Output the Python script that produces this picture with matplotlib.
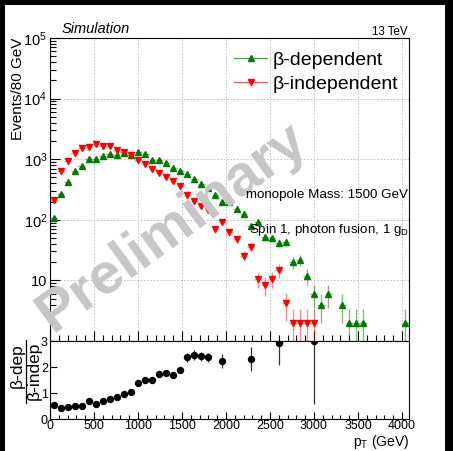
import numpy as np
import matplotlib
matplotlib.use('Agg')
import matplotlib.pyplot as plt
from matplotlib.lines import Line2D
from matplotlib.patches import Rectangle
from matplotlib.transforms import Bbox, TransformedBbox
from matplotlib.ticker import MultipleLocator, NullFormatter, LogLocator

plt.rcParams['font.family'] = ['Liberation Sans', 'DejaVu Sans']
plt.rcParams['mathtext.fontset'] = 'custom'
plt.rcParams['mathtext.rm'] = 'Liberation Sans'
plt.rcParams['mathtext.it'] = 'Liberation Sans:italic'
plt.rcParams['mathtext.bf'] = 'Liberation Sans:bold'

# ---- data (80 GeV bins) ----
bin_centers = [40, 120, 200, 280, 360, 440, 520, 600, 680, 760, 840, 920, 1000,
               1080, 1160, 1240, 1320, 1400, 1480, 1560, 1640, 1720, 1800, 1880,
               1960, 2040, 2120, 2200, 2280, 2360, 2440, 2520, 2600, 2680, 2760,
               2840, 2920, 3000, 3080, 3160, 3240, 3320, 3400, 3480, 3560, 3640,
               3720, 3800, 3880, 3960, 4040]
beta_dep = [107, 270, 420, 647, 762, 1007, 1000, 1115, 1200, 1180, 1265, 1190, 1330,
            1210, 983, 960, 866, 716, 638, 577, 477, 390, 330, 253,
            194, 194, 153, 126, 80, 91, 52, 50, 42, 43, 20,
            22, 12, 6, 4, 6, 0, 4, 2, 2, 2, 0,
            0, 0, 0, 0, 2]
beta_indep = [210, 630, 934, 1250, 1550, 1620, 1805, 1670, 1670, 1420, 1315, 1190, 980,
              823, 680, 584, 502, 443, 356, 253, 204, 167, 147, 70,
              91, 62, 48, 25.6, 36, 10.7, 8.5, 10.7, 14.6, 4.2, 2,
              2, 2, 2, 0, 0, 0, 0, 0, 0, 0, 0,
              0, 0, 0, 0, 0]
half_bin = 40

ratio_x = [40, 120, 200, 280, 360, 440, 520, 600, 680, 760, 840, 920, 1000, 1080,
           1160, 1240, 1320, 1400, 1480, 1560, 1640, 1720, 1800, 1960, 2280, 2600, 3000]
ratio_y = [0.54, 0.435, 0.45, 0.51, 0.51, 0.68, 0.58, 0.69, 0.76, 0.85, 0.97, 1.04, 1.40, 1.49,
           1.49, 1.72, 1.78, 1.68, 1.88, 2.37, 2.46, 2.41, 2.37, 2.23, 2.30, 2.93, 3.0]
ratio_err = [0.04, 0.03, 0.03, 0.03, 0.03, 0.04, 0.03, 0.04, 0.04, 0.05, 0.05, 0.05, 0.07, 0.08,
             0.08, 0.09, 0.10, 0.10, 0.11, 0.18, 0.18, 0.18, 0.18, 0.26, 0.47, 0.84, 2.42]

W, H = 453, 451
fig = plt.figure(figsize=(W / 100, H / 100), dpi=100)
fig.patch.set_facecolor('black')
fig.patches.append(Rectangle((5 / W, 0), 440 / W, 446 / H, transform=fig.transFigure,
                             facecolor='white', edgecolor='none', zorder=-5))

ax = fig.add_axes([50 / W, 110 / H, 359 / W, 303 / H])
rax = fig.add_axes([50 / W, 32 / H, 359 / W, 78 / H])

green, green_e = '#007a00', (0.0, 0.5, 0.0, 0.5)
red, red_e = '#ff0000', (1.0, 0.0, 0.0, 0.45)

bc = np.array(bin_centers, dtype=float)
for vals, col, ecol, mk in [(beta_dep, green, green_e, '^'), (beta_indep, red, red_e, 'v')]:
    v = np.array(vals, dtype=float)
    m = v > 0
    err = np.sqrt(v[m])
    ax.errorbar(bc[m], v[m], yerr=err, xerr=half_bin, fmt=mk, color=col, ecolor=ecol,
                elinewidth=1.0, ms=3.8, mec=col, mfc=col, capsize=0, zorder=3)

ax.set_yscale('log')
ax.set_ylim(1, 1e5)
ax.set_xlim(0, 4080)
ax.grid(True, which='major', ls=(0, (2, 2)), color='#b8b8b8', lw=0.6)
ax.xaxis.set_major_locator(MultipleLocator(500))
ax.xaxis.set_minor_locator(MultipleLocator(100))
ax.set_yticks([1, 10, 100, 1e3, 1e4, 1e5])
ax.set_yticklabels(['', '10', r'$10^{2}$', r'$10^{3}$', r'$10^{4}$', r'$10^{5}$'], fontsize=10.5)
ax.yaxis.set_minor_locator(LogLocator(base=10, subs=np.arange(2, 10), numticks=20))
ax.yaxis.set_minor_formatter(NullFormatter())
ax.tick_params(which='both', direction='in', top=False, right=False, labelbottom=False, width=0.8)
ax.tick_params(which='major', length=7, pad=2)
ax.tick_params(which='minor', length=4)
for s in ax.spines.values():
    s.set_linewidth(0.8)

handles = [Line2D([], [], color='#4ea04e', lw=0.9, marker='^', mfc=green, mec=green, ms=3.8),
           Line2D([], [], color='#ff5a5a', lw=0.9, marker='v', mfc=red, mec=red, ms=3.8)]
ax.legend(handles, ['β-dependent', 'β-independent'], loc='upper left',
          bbox_to_anchor=(234 / W, 1 - 51 / H), bbox_transform=fig.transFigure,
          frameon=False, fontsize=14, handlelength=1.7, handletextpad=0.3,
          borderpad=0, borderaxespad=0, labelspacing=0.33)

# ratio panel
rax.errorbar(ratio_x, ratio_y, yerr=ratio_err, fmt='o', color='black', ecolor='#333333',
             elinewidth=0.9, ms=4.3, capsize=0, zorder=3)
rax.set_xlim(0, 4080)
rax.set_ylim(0, 3)
rax.set_yticks([0, 1, 2, 3])
rax.xaxis.set_major_locator(MultipleLocator(500))
rax.xaxis.set_minor_locator(MultipleLocator(100))
rax.tick_params(which='both', direction='in', top=False, right=False, width=0.8, labelsize=9)
rax.tick_params(which='major', length=5, pad=1.5)
rax.tick_params(axis='x', which='major', pad=0.5)
rax.tick_params(which='minor', length=3)
for s in rax.spines.values():
    s.set_linewidth(0.8)

# texts
fig.text(62 / W, 1 - 33 / H, 'Simulation', style='italic', fontsize=10.5, ha='left', va='baseline')
fig.text(407 / W, 1 - 35 / H, '13 TeV', fontsize=8.3, ha='right', va='baseline')
fig.text(408 / W, 1 - 198 / H, 'monopole Mass: 1500 GeV', fontsize=9.6, ha='right', va='baseline')
fig.text(409 / W, 1 - 233 / H, r'Spin 1, photon fusion, 1 g$_\mathregular{D}$', fontsize=9.6,
         ha='right', va='baseline')
fig.text(18 / W, 1 - 38 / H, 'Events/80 GeV', rotation=90, fontsize=11, ha='center', va='top')
fig.text(409 / W, 1 - 446 / H, r'p$_\mathregular{T}$ (GeV)', fontsize=10, ha='right', va='baseline')

# ratio y title as a stacked fraction
fig.text(17 / W, 1 - 366 / H, 'β-dep', rotation=90, fontsize=12.5, ha='center', va='center')
fig.text(34.5 / W, 1 - 371 / H, 'β-indep', rotation=90, fontsize=12.5, ha='center', va='center')
fig.add_artist(Line2D([25.5 / W, 25.5 / W], [1 - 340 / H, 1 - 403 / H], transform=fig.transFigure,
                      color='black', lw=0.9))

wm = fig.text(172 / W, 1 - 228 / H, 'Preliminary', fontsize=42, fontweight='bold',
              color='#c6c6c6', rotation=36, rotation_mode='anchor', ha='center', va='center',
              zorder=1)
wm.set_clip_box(TransformedBbox(Bbox([[5 / W, 110 / H], [445 / W, 1 - 5 / H]]), fig.transFigure))
wm.set_clip_on(True)

fig.savefig('out.png', dpi=100, facecolor=fig.get_facecolor())
